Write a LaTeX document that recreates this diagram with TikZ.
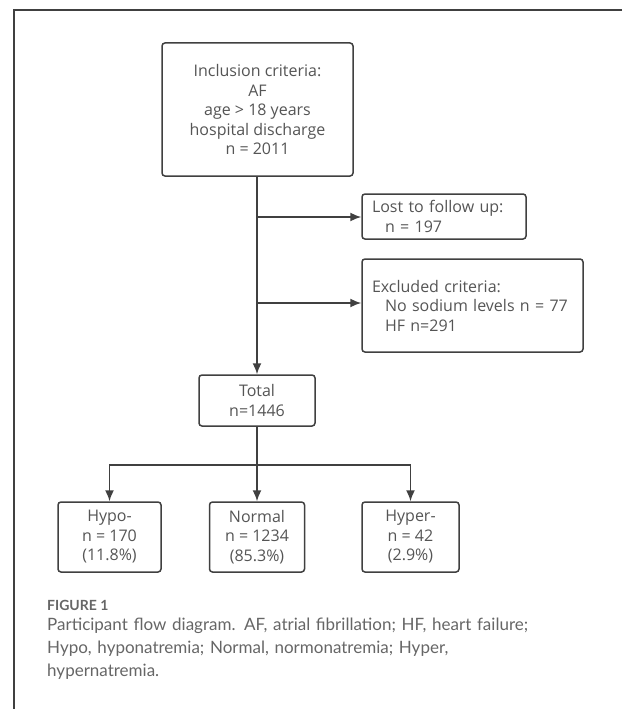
\documentclass[tikz,border=0pt]{standalone}
\usepackage{fontspec}
\setmainfont{Open Sans}
\newfontfamily\capfont{Lato}
\usetikzlibrary{arrows.meta}
\definecolor{boxline}{HTML}{404040}
\definecolor{boxtext}{HTML}{555555}
\definecolor{captext}{HTML}{666666}
\tikzset{
  flowbox/.style={draw=boxline, line width=1.5pt, rounded corners=3pt, text=boxtext,
    font=\fontsize{16}{19.5}\selectfont, inner sep=0pt, anchor=center},
  conn/.style={draw=boxline, line width=1.6pt},
  arr/.style={conn, -{Latex[length=11pt,width=9pt]}},
}
\begin{document}
\begin{tikzpicture}[x=1pt,y=-1pt]
\path[use as bounding box, fill=white] (0,0) rectangle (622,709);
% frame
\draw[line width=1.4pt, color=boxline] (622,10) -- (14,10) -- (14,709);
% boxes
\node[flowbox, minimum width=191pt, minimum height=133pt, align=center] (incl) at (257.5,109.5)
  {Inclusion criteria:\\AF\\age > 18 years\\hospital discharge\\n = 2011};
\node[flowbox, minimum width=164pt, minimum height=45pt, text width=144pt, align=left] (lost) at (444,216.5)
  {Lost to follow up:\\\hspace*{13pt}n = 197};
\node[flowbox, minimum width=221pt, minimum height=93pt, text width=201pt, align=left] (excl) at (472.5,305.5)
  {Excluded criteria:\\\hspace*{13pt}No sodium levels n = 77\\\hspace*{13pt}HF n=291};
\node[flowbox, minimum width=116pt, minimum height=51pt, align=center] (total) at (257,400.5)
  {Total\\n=1446};
\node[flowbox, minimum width=103pt, minimum height=70pt, align=center] (hypo) at (109.5,537)
  {Hypo-\\n = 170\\(11.8\%)};
\node[flowbox, minimum width=95pt, minimum height=70pt, align=center] (normal) at (257,537)
  {Normal\\n = 1234\\(85.3\%)};
\node[flowbox, minimum width=97pt, minimum height=70pt, align=center] (hyper) at (410.5,537)
  {Hyper-\\n = 42\\(2.9\%)};
% connectors
\coordinate (b1) at (257,217);
\coordinate (b2) at (257,303);
\coordinate (split) at (257,465);
\draw[arr] (incl.south -| total.north) -- (total.north);
\draw[arr] (b1) -- (b1 -| lost.west);
\draw[arr] (b2) -- (b2 -| excl.west);
\draw[conn] (total.south) -- (split);
\draw[arr] (split) -| (hypo.north);
\draw[arr] (split) -| (hyper.north);
\draw[arr] (split) -- (normal.north);
% caption
\node[anchor=west, inner sep=0pt, text=captext, font=\capfont\bfseries\fontsize{14}{16}\selectfont] (fig) at (47,605) {FIGURE 1};
\node[anchor=north west, inner sep=0pt, text=captext, align=left, text width=570pt,
  font=\capfont\fontsize{17}{23.3}\selectfont] (cap) at (47,617.5)
  {Participant flow diagram. AF, atrial fibrillation; HF, heart failure;\\
   Hypo, hyponatremia; Normal, normonatremia; Hyper,\\
   hypernatremia.};
\end{tikzpicture}
\end{document}
